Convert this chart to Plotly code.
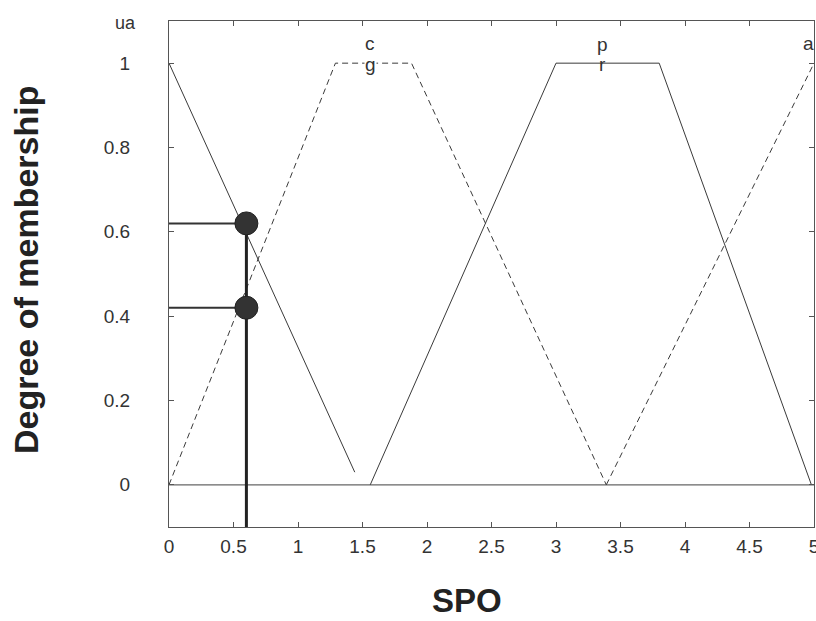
import plotly.graph_objects as go

# membership functions (SPO)
ua_x = [0.0, 1.44]
ua_y = [1.0, 0.03]
cg_x = [0.0, 1.29, 1.88, 3.39]
cg_y = [0.0, 1.0, 1.0, 0.0]
pr_x = [1.56, 3.0, 3.8, 4.98]
pr_y = [0.0, 1.0, 1.0, 0.0]
a_x = [3.39, 5.0]
a_y = [0.0, 1.0]
zero_x = [0.0, 5.0]
zero_y = [0.0, 0.0]

# example input
spo_value = 0.6
mu_values = [0.62, 0.42]

x_ticks = [0, 0.5, 1, 1.5, 2, 2.5, 3, 3.5, 4, 4.5, 5]
x_ticktext = ["0", "0.5", "1", "1.5", "2", "2.5", "3", "3.5", "4", "4.5", "5"]
y_ticks = [0, 0.2, 0.4, 0.6, 0.8, 1]
y_ticktext = ["0", "0.2", "0.4", "0.6", "0.8", "1"]

labels = [("c", 1.56, 1.047, False), ("g", 1.56, 0.997, True),
          ("p", 3.36, 1.045, False), ("r", 3.36, 0.997, False)]

LINE = "#3a3a3a"
DASH = "6px,4px"
FONT = "Liberation Sans, Arial, sans-serif"

fig = go.Figure()
fig.add_trace(go.Scatter(x=zero_x, y=zero_y, mode="lines",
                         line=dict(color="#666", width=1.2), showlegend=False))
fig.add_trace(go.Scatter(x=ua_x, y=ua_y, mode="lines",
                         line=dict(color=LINE, width=1), showlegend=False))
fig.add_trace(go.Scatter(x=cg_x, y=cg_y, mode="lines",
                         line=dict(color=LINE, width=1, dash=DASH), showlegend=False))
fig.add_trace(go.Scatter(x=pr_x, y=pr_y, mode="lines",
                         line=dict(color=LINE, width=1), showlegend=False))
fig.add_trace(go.Scatter(x=a_x, y=a_y, mode="lines",
                         line=dict(color=LINE, width=1, dash=DASH), showlegend=False))

# projection lines
for mu in mu_values:
    fig.add_trace(go.Scatter(x=[0, spo_value], y=[mu, mu], mode="lines",
                             line=dict(color="#333", width=2), showlegend=False))
fig.add_trace(go.Scatter(x=[spo_value, spo_value], y=[max(mu_values), -0.1], mode="lines",
                         line=dict(color="#222", width=3), showlegend=False))
fig.add_trace(go.Scatter(x=[spo_value] * len(mu_values), y=mu_values, mode="markers",
                         marker=dict(size=23, color="#333", line=dict(color="#222", width=1)),
                         showlegend=False))

font_tick = dict(family=FONT, size=19, color="#333")

# plot area in page pixels: x 169..814, y 21..527
PW, PH = 645, 506

annotations = []
for txt, x, y, bg in labels:
    annotations.append(dict(x=x, y=y, xref="x", yref="y", text=txt, showarrow=False,
                            font=dict(family=FONT, size=19, color="#333"),
                            bgcolor="white" if bg else None, borderpad=0))
annotations.append(dict(x=1 + 2 / PW, y=1.047, xref="paper", yref="y", text="a",
                        showarrow=False, xanchor="right",
                        font=dict(family=FONT, size=19, color="#333")))
annotations.append(dict(x=(113 - 169) / PW, y=1.095, xref="paper", yref="y", text="ua",
                        showarrow=False, font=dict(family=FONT, size=18, color="#333")))
annotations.append(dict(x=(467 - 169) / PW, y=-(600 - 527) / PH, xref="paper", yref="paper",
                        text="<b>SPO</b>", showarrow=False, yanchor="middle",
                        font=dict(family=FONT, size=33, color="#222")))
annotations.append(dict(x=-(169 - 26) / PW, y=(527 - 270) / PH, xref="paper", yref="paper",
                        text="<b>Degree of membership</b>", showarrow=False, textangle=-90,
                        xanchor="center", yanchor="middle",
                        font=dict(family=FONT, size=34, color="#222")))

fig.update_layout(
    width=816, height=621,
    margin=dict(l=169, r=2, t=21, b=94, autoexpand=False),
    plot_bgcolor="white", paper_bgcolor="white",
    annotations=annotations,
    xaxis=dict(range=[0, 5], tickvals=x_ticks, ticktext=x_ticktext, ticks="inside",
               ticklen=5, tickcolor="#555", showgrid=False, zeroline=False,
               showline=True, linecolor="#555", linewidth=1.2, mirror="ticks",
               tickfont=font_tick, ticklabelstandoff=2, ticklabeloverflow="allow"),
    yaxis=dict(range=[-0.1, 1.1], tickvals=y_ticks, ticktext=y_ticktext, ticks="inside",
               ticklen=5, tickcolor="#555", showgrid=False, zeroline=False,
               showline=True, linecolor="#555", linewidth=1.2, mirror="ticks",
               tickfont=font_tick, ticklabelstandoff=34, ticklabeloverflow="allow"),
)

fig.write_html(
    "out.html",
    config={"displayModeBar": False},
    post_script="document.body.style.margin='0px';document.body.style.overflow='hidden';"
                "document.documentElement.style.overflow='hidden';",
)
